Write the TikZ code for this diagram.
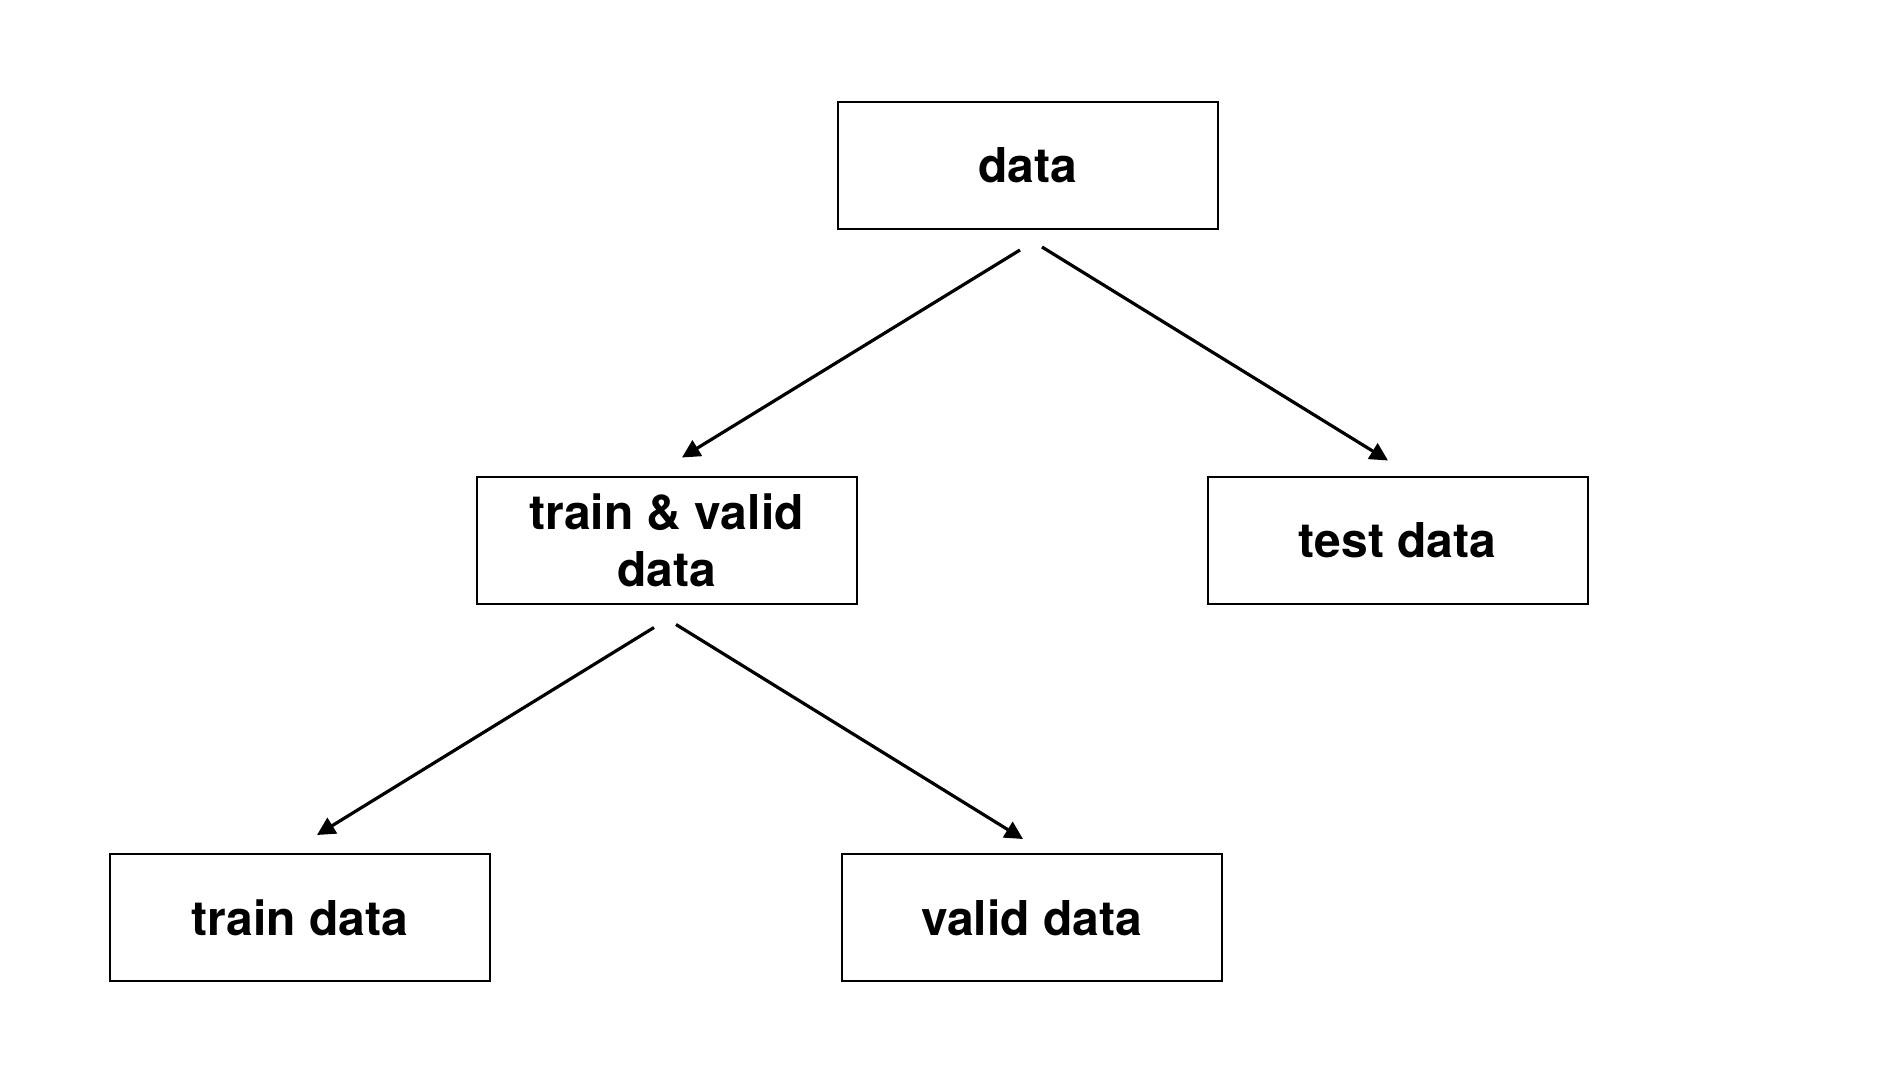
\documentclass[tikz,border=0pt]{standalone}
\usepackage{fontspec}
\setmainfont{TeX Gyre Heros}
\usetikzlibrary{arrows.meta,calc}
\tikzset{
  box/.style={draw=black, line width=1pt, fill=white, minimum width=190pt, minimum height=63.5pt,
    inner sep=0pt, align=center, font=\fontsize{24}{28.5}\selectfont\bfseries},
  conn/.style={line width=1.6pt, -{Triangle[length=9pt,width=9pt]}}
}
\begin{document}
\begin{tikzpicture}[x=0.5pt,y=-0.5pt]
\useasboundingbox[fill=white] (0,0) rectangle (1888,1086);
\node[box] (data)  at (1028,165.5) {data};
\node[box] (tv)    at (666.5,540)  {train \& valid\\data};
\node[box] (test)  at (1397.5,540) {test data};
\node[box] (train) at (300,917.5)  {train data};
\node[box] (valid) at (1031.5,917.5) {valid data};
\coordinate (s1) at ($(data.south)+(-8,20)$);
\coordinate (s2) at ($(data.south)+(14,17)$);
\coordinate (t1) at ($(tv.north)+(15.5,-18)$);
\coordinate (t2) at ($(test.north)+(-9.5,-15)$);
\coordinate (s3) at ($(tv.south)+(-12.5,23)$);
\coordinate (s4) at ($(tv.south)+(9.5,20)$);
\coordinate (t3) at ($(train.north)+(17,-18)$);
\coordinate (t4) at ($(valid.north)+(-8.5,-14)$);
\draw[conn] (s1) -- (t1);
\draw[conn] (s2) -- (t2);
\draw[conn] (s3) -- (t3);
\draw[conn] (s4) -- (t4);
\end{tikzpicture}
\end{document}
